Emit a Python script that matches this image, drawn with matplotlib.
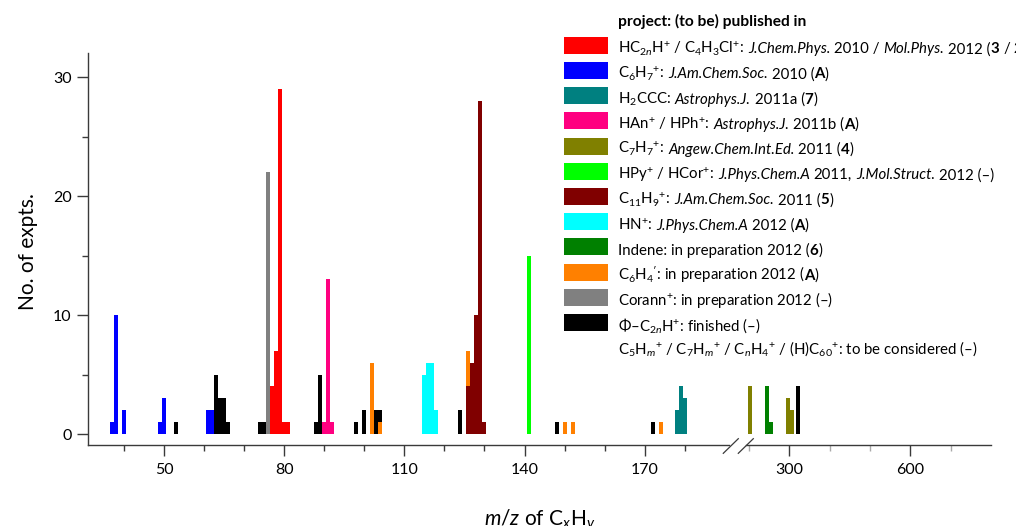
import matplotlib
matplotlib.use("Agg")
import matplotlib.pyplot as plt
from matplotlib.patches import Rectangle
from matplotlib.lines import Line2D

plt.rcParams["font.family"] = ["Lato", "DejaVu Sans"]
plt.rcParams["mathtext.fontset"] = "custom"
plt.rcParams["mathtext.rm"] = "Lato"
plt.rcParams["mathtext.it"] = "Lato:italic"
plt.rcParams["mathtext.bf"] = "Lato:bold"

# ---- data: m/z positions and number of experiments per project ----
red_mz = [77, 78, 79, 80, 81]
red_n = [4, 7, 29, 1, 1]
blue_mz = [37, 38, 40, 49, 50, 61, 62]
blue_n = [1, 10, 2, 1, 3, 2, 2]
teal_mz = [178, 179, 180]
teal_n = [2, 4, 3]
pink_mz = [90, 91, 92]
pink_n = [1, 13, 1]
olive_mz = [204, 297, 307]
olive_n = [4, 3, 2]
lime_mz = [141]
lime_n = [15]
darkred_mz = [126, 127, 128, 129, 130]
darkred_n = [4, 6, 10, 28, 1]
cyan_mz = [115, 116, 117, 118]
cyan_n = [5, 6, 6, 2]
green_mz = [245, 255]
green_n = [4, 1]
orange_mz = [102, 104, 126, 150, 152, 174]
orange_n = [6, 1, 7, 1, 1, 1]
gray_mz = [76]
gray_n = [22]
black_mz = [53, 63, 64, 65, 66, 74, 75, 88, 89, 98, 100, 103, 104, 124, 148, 172, 321]
black_n = [1, 5, 3, 3, 1, 1, 1, 1, 5, 1, 2, 2, 2, 2, 1, 1, 4]

xticks_low = [50, 80, 110, 140, 170]
xticks_high = [300, 600]
yticks = [0, 10, 20, 30]

# legend entries: pieces of (text, style) with n = normal, i = italic, b = bold
legend_title = "project: (to be) published in"
legend_labels = [
    [(r"HC$_{2\mathit{n}}$H$^{+}$ / C$_4$H$_3$Cl$^{+}$: ", "n"), ("J.Chem.Phys.", "i"),
     (" 2010 / ", "n"), ("Mol.Phys.", "i"), (" 2012 (", "n"), ("3", "b"), (" / ", "n"),
     ("2", "b"), (")", "n")],
    [(r"C$_6$H$_7$$^{+}$: ", "n"), ("J.Am.Chem.Soc.", "i"), (" 2010 (", "n"), ("A", "b"), (")", "n")],
    [(r"H$_2$CCC: ", "n"), ("Astrophys.J.", "i"), (" 2011a (", "n"), ("7", "b"), (")", "n")],
    [(r"HAn$^{+}$ / HPh$^{+}$: ", "n"), ("Astrophys.J.", "i"), (" 2011b (", "n"), ("A", "b"), (")", "n")],
    [(r"C$_7$H$_7$$^{+}$: ", "n"), ("Angew.Chem.Int.Ed.", "i"), (" 2011 (", "n"), ("4", "b"), (")", "n")],
    [(r"HPy$^{+}$ / HCor$^{+}$: ", "n"), ("J.Phys.Chem.A", "i"), (" 2011, ", "n"),
     ("J.Mol.Struct.", "i"), (" 2012 (–)", "n")],
    [(r"C$_{11}$H$_9$$^{+}$: ", "n"), ("J.Am.Chem.Soc.", "i"), (" 2011 (", "n"), ("5", "b"), (")", "n")],
    [(r"HN$^{+}$: ", "n"), ("J.Phys.Chem.A", "i"), (" 2012 (", "n"), ("A", "b"), (")", "n")],
    [("Indene: in preparation 2012 (", "n"), ("6", "b"), (")", "n")],
    [(r"C$_6$H$_4$$^{\prime}$: in preparation 2012 (", "n"), ("A", "b"), (")", "n")],
    [(r"Corann$^{+}$: in preparation 2012 (–)", "n")],
    [(r"$\Phi$–C$_{2\mathit{n}}$H$^{+}$: finished (–)", "n")],
]
legend_extra = [(r"C$_5$H$_{\mathit{m}}$$^{+}$ / C$_7$H$_{\mathit{m}}$$^{+}$ / C$_{\mathit{n}}$H$_4$$^{+}$ / "
                 r"(H)C$_{60}$$^{+}$: to be considered (–)", "n")]

series = [
    (red_mz, red_n, "#ff0000"),
    (blue_mz, blue_n, "#0000ff"),
    (teal_mz, teal_n, "#008080"),
    (pink_mz, pink_n, "#ff0080"),
    (olive_mz, olive_n, "#808000"),
    (lime_mz, lime_n, "#00ff00"),
    (darkred_mz, darkred_n, "#800000"),
    (cyan_mz, cyan_n, "#00ffff"),
    (green_mz, green_n, "#008000"),
    (orange_mz, orange_n, "#ff8000"),
    (gray_mz, gray_n, "#808080"),
    (black_mz, black_n, "#000000"),
]
# drawing order: later entries sit on top where bars share a position
draw_order = [11, 10, 9, 0, 1, 2, 3, 4, 5, 6, 7, 8]

# ---- figure and broken x axis ----
W, H = 1016, 526
fig = plt.figure(figsize=(W / 100, H / 100), dpi=100)


def fx(px):
    return px / W


def fy(py):
    return 1 - py / H


y_top, y_bot = 53, 445
ax1 = fig.add_axes([fx(88.3), fy(y_bot), fx(729) - fx(88.3), fy(y_top) - fy(y_bot)])
ax2 = fig.add_axes([fx(746), fy(y_bot), fx(991) - fx(746), fy(y_top) - fy(y_bot)], sharey=ax1)

split = 190
ax1.set_xlim(31, 191.1)
ax2.set_xlim(193, 800)
ax1.set_ylim(-0.925, 32.04)

axis_col = "#3a3a3a"
for i in draw_order:
    mz, n, col = series[i]
    lo = [(m, v) for m, v in zip(mz, n) if m <= split]
    hi = [(m, v) for m, v in zip(mz, n) if m > split]
    if lo:
        ax1.bar([m for m, _ in lo], [v for _, v in lo], width=1.0, color=col, linewidth=0)
    if hi:
        ax2.bar([m for m, _ in hi], [v for _, v in hi], width=9.9, color=col, linewidth=0)

for ax in (ax1, ax2):
    for s in ("top", "right"):
        ax.spines[s].set_visible(False)
    ax.spines["bottom"].set_color(axis_col)
    ax.spines["bottom"].set_linewidth(1.0)
    ax.tick_params(axis="x", which="major", direction="out", length=8, width=1.0,
                   color=axis_col, labelsize=11.5, pad=5)
    ax.tick_params(axis="x", which="minor", direction="out", length=4, width=1.0, color=axis_col)

ax2.spines["left"].set_visible(False)
ax2.tick_params(axis="y", which="both", left=False, labelleft=False)

ax1.spines["left"].set_color(axis_col)
ax1.spines["left"].set_linewidth(1.0)
ax1.set_yticks(yticks)
ax1.set_yticks([5, 15, 25], minor=True)
ax1.tick_params(axis="y", which="major", direction="out", length=8, width=1.0,
                color=axis_col, labelsize=11.5, pad=4)
ax1.tick_params(axis="y", which="minor", direction="out", length=4, width=1.0, color=axis_col)

ax1.set_xticks(xticks_low)
ax1.set_xticks([40, 60, 70, 90, 100, 120, 130, 150, 160, 180], minor=True)
ax2.set_xticks(xticks_high)
ax2.set_xticks([200, 400, 500, 700], minor=True)
ax2.tick_params(axis="x", which="minor", color="#aaaaaa")

# break marks on the x axis
for x0 in (723.3, 738.3):
    fig.add_artist(Line2D([fx(x0), fx(x0 + 15)], [fy(453.3), fy(438.7)],
                          color=axis_col, lw=0.9))

# axis titles
fig.text(fx(28), fy(252), "No. of expts.", rotation=90, ha="center", va="center", fontsize=15)
fig.text(fx(540), fy(525.5), r"$m$/$z$ of C$_x$H$_y$", ha="center", va="baseline", fontsize=15)

# ---- legend block ----
renderer = fig.canvas.get_renderer()
LEG_SIZE = 10.8
probe_a = fig.text(0, 0, "xx", fontsize=LEG_SIZE)
probe_b = fig.text(0, 0, "x x", fontsize=LEG_SIZE)
space_px = probe_b.get_window_extent(renderer).width - probe_a.get_window_extent(renderer).width
probe_a.remove()
probe_b.remove()

STYLE = {"n": {}, "i": {"fontstyle": "italic"}, "b": {"fontweight": "bold"}}


def write_pieces(x_px, base_px, pieces):
    x = x_px
    for s, st in pieces:
        core = s.strip(" ")
        x += (len(s) - len(s.lstrip(" "))) * space_px
        if core:
            t = fig.text(fx(x), fy(base_px), core, fontsize=LEG_SIZE, va="baseline", **STYLE[st])
            x += t.get_window_extent(renderer).width
        x += (len(s) - len(s.rstrip(" "))) * space_px


fig.text(fx(618), fy(26), legend_title, fontsize=11.2, fontweight="bold", va="baseline")
row0, step = 45.3, 25.2
for k, (pieces, (_, _, col)) in enumerate(zip(legend_labels, series)):
    yc = row0 + step * k
    fig.add_artist(Rectangle((fx(564), fy(yc + 8.5)), fx(44), 17 / H, transform=fig.transFigure,
                             facecolor=col, edgecolor="none"))
    write_pieces(618, yc + 8, pieces)
write_pieces(618, row0 + step * 12 + 6, legend_extra)

fig.savefig("out.png", dpi=100)
